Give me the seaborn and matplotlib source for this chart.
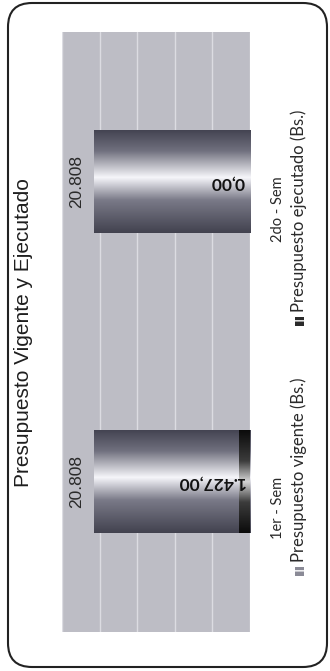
import numpy as np
import pandas as pd
import matplotlib
matplotlib.use("Agg")
import matplotlib.pyplot as plt
import seaborn as sns
from matplotlib.colors import LinearSegmentedColormap
from matplotlib.patches import FancyBboxPatch, Rectangle

# datos
semestres = ["1er - Sem", "2do - Sem"]
vigente = [20808, 20808]
ejecutado = [1427.00, 0.00]
etiquetas_vigente = ["20.808", "20.808"]
etiquetas_ejecutado = ["1.427,00", "0,00"]
series = ["Presupuesto vigente (Bs.)", "Presupuesto ejecutado (Bs.)"]
titulo = "Presupuesto Vigente y Ejecutado"

df = pd.DataFrame({
    "semestre": semestres * 2,
    "monto": vigente + ejecutado,
    "serie": [series[0]] * 2 + [series[1]] * 2,
})

sns.set_theme(style="white")
plt.rcParams["font.family"] = ["Liberation Sans", "DejaVu Sans"]

W, H = 330, 671
fig = plt.figure(figsize=(W / 100, H / 100), dpi=100)
fig.patch.set_facecolor("white")

# el grafico original esta girado 90 grados: barras horizontales que crecen hacia la izquierda
ax = fig.add_axes([62 / W, 39 / H, 188 / W, 600 / H])
ax.set_facecolor("#bdbdc5")

sns.barplot(data=df, x="monto", y="semestre", hue="serie", order=semestres,
            hue_order=series, dodge=False, width=0.343, orient="h",
            palette=["#9a9aa6", "#1a1a1a"], saturation=1, errorbar=None,
            legend=False, ax=ax)

# relleno degradado tipo cilindro
vig_cmap = LinearSegmentedColormap.from_list(
    "vig", [(0, "#444452"), (0.2, "#70707e"), (0.46, "#f6f6fa"),
            (0.68, "#7a7a88"), (1, "#42424f")])
eje_cmap = LinearSegmentedColormap.from_list(
    "eje", [(0, "#0b0b0b"), (0.3, "#3c3c3c"), (0.5, "#d6d6d6"),
            (0.7, "#3c3c3c"), (1, "#0b0b0b")])
grad = np.linspace(0, 1, 256).reshape(-1, 1)
for bar in list(ax.patches):
    x0, y0 = bar.get_x(), bar.get_y()
    w, h = bar.get_width(), bar.get_height()
    dark = sum(bar.get_facecolor()[:3]) < 0.5
    bar.set_facecolor("none")
    bar.set_edgecolor("none")
    if w == 0:
        continue
    ax.imshow(grad, cmap=eje_cmap if dark else vig_cmap, aspect="auto",
              extent=(x0, x0 + w, y0, y0 + h), origin="upper",
              interpolation="bilinear", zorder=3 if dark else 2)

ax.set_xlim(25000, 0)
ax.set_ylim(-0.5, 1.5)
ax.set_xticks(np.arange(0, 25001, 5000))
ax.grid(axis="x", color="#dcdce2", lw=1)
ax.set_axisbelow(True)
ax.tick_params(axis="x", labelbottom=False, length=0)
ax.set_xlabel("")
ax.set_ylabel("")
for s in ax.spines.values():
    s.set_visible(False)

ax.yaxis.tick_right()
ax.set_yticks(range(len(semestres)))
ax.set_yticklabels(semestres, rotation=90, fontsize=10.5, family="Lato", color="#2a2a2a")
ax.tick_params(axis="y", length=0, pad=15)

for i in range(len(semestres)):
    ax.annotate(etiquetas_vigente[i], (vigente[i], i), xytext=(-12, 0),
                textcoords="offset points", rotation=90, ha="center", va="center",
                fontsize=12.5, color="#2a2a2a", zorder=5)
    ax.annotate(etiquetas_ejecutado[i], (0, i), xytext=(-4, 0),
                textcoords="offset points", rotation=180, rotation_mode="anchor",
                ha="left", va="center", fontsize=12.5, fontweight="bold",
                family="Lato", color="#111111", zorder=5)

fig.text(24 / W, 1 - 333 / H, titulo, rotation=90, ha="center", va="center",
         fontsize=15, color="#1e1e1e")

# leyenda dibujada a mano (girada)
leg_bottom = [562, 312]
leg_colors = ["#8a8a96", "#2a2a2a"]
for name, yb, col in zip(series, leg_bottom, leg_colors):
    fig.text(299 / W, 1 - yb / H, name, rotation=90, ha="center", va="bottom",
             fontsize=12, family="Lato", color="#2a2a2a")
    fig.add_artist(Rectangle((295 / W, 1 - (yb + 14) / H), 9 / W, 9 / H,
                             transform=fig.transFigure, facecolor=col,
                             edgecolor="white", hatch="--", lw=0))

# marco redondeado
fig.add_artist(FancyBboxPatch((0.08, 0.04), 3.19, 6.64,
                              boxstyle="round,pad=0,rounding_size=0.24",
                              transform=fig.dpi_scale_trans, fill=False,
                              ec="#222222", lw=1.5))

fig.savefig("out.png", dpi=100)
